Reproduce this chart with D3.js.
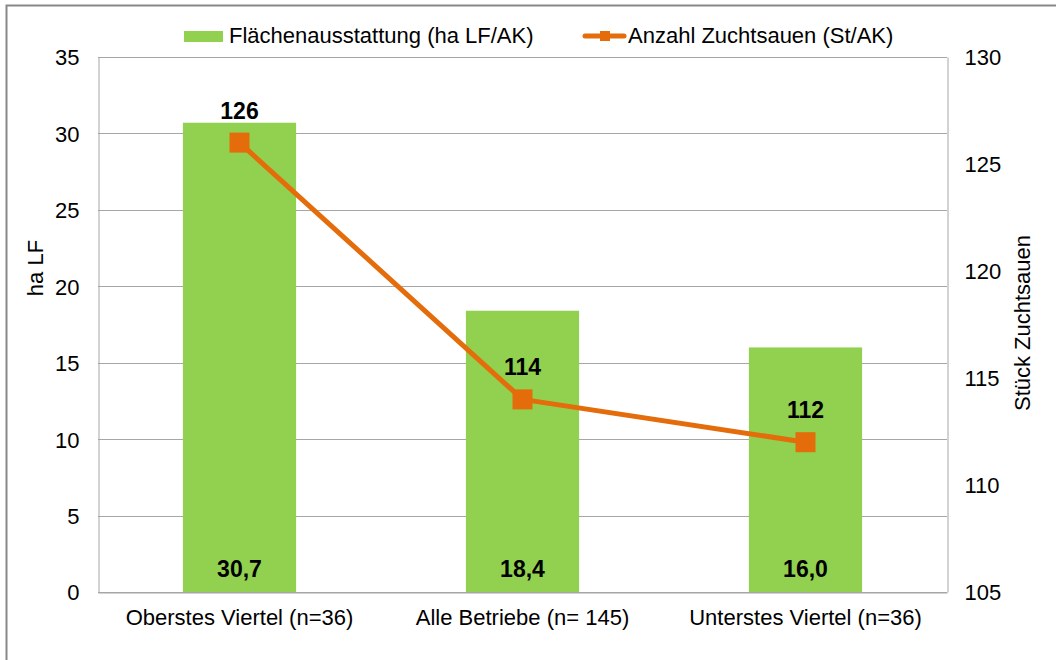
<!DOCTYPE html>
<html>
<head>
<meta charset="utf-8">
<script src="https://cdn.jsdelivr.net/npm/d3@7"></script>
<style>
body { margin: 0; background: #fff; }
text { font-family: "Liberation Sans", Arial, sans-serif; fill: #000; }
</style>
</head>
<body>
<svg id="chart" width="1056" height="660"></svg>
<script>
var categories = ["Oberstes Viertel (n=36)", "Alle Betriebe (n= 145)", "Unterstes Viertel (n=36)"];
var flaeche = [30.7, 18.4, 16.0];
var sauen = [126, 114, 112];
var leftTicks = [0, 5, 10, 15, 20, 25, 30, 35];
var rightTicks = [105, 110, 115, 120, 125, 130];
var seriesNames = ["Flächenausstattung (ha LF/AK)", "Anzahl Zuchtsauen (St/AK)"];

var GREEN = "#92d050";
var ORANGE = "#e46c0a";
var GRID = "#a6a6a6";
var FS = "22px";
var FS_BOLD = "23px";

var svg = d3.select("#chart");
var plotLeft = 98, plotRight = 947, plotTop = 57, plotBottom = 592;

// outer frame
svg.append("rect")
	.attr("x", 6.5).attr("y", 5.5)
	.attr("width", 1100).attr("height", 700)
	.attr("fill", "none")
	.attr("stroke", "#888")
	.attr("stroke-width", 2);

var x = d3.scaleBand().domain(categories).range([plotLeft, plotRight]).paddingInner(0).paddingOuter(0);
var yL = d3.scaleLinear().domain([0, 35]).range([plotBottom, plotTop]);
var yR = d3.scaleLinear().domain([105, 130]).range([plotBottom, plotTop]);

// grid
svg.append("g").selectAll("line")
	.data(leftTicks)
	.join("line")
	.attr("x1", plotLeft).attr("x2", plotRight)
	.attr("y1", function(d) { return Math.round(yL(d)) + 0.5; })
	.attr("y2", function(d) { return Math.round(yL(d)) + 0.5; })
	.attr("stroke", GRID).attr("stroke-width", 1);

// left axis
var axL = svg.append("g")
	.attr("transform", "translate(" + (plotLeft + 0.5) + ",0)")
	.call(d3.axisLeft(yL).tickValues(leftTicks).tickSize(0).tickPadding(19));
axL.select(".domain").attr("stroke", GRID);
axL.selectAll("text").style("font-size", FS).attr("dy", "0.36em");

// right axis
var axR = svg.append("g")
	.attr("transform", "translate(" + (plotRight + 0.5) + ",0)")
	.call(d3.axisRight(yR).tickValues(rightTicks).tickSize(0).tickPadding(17));
axR.select(".domain").attr("stroke", GRID);
axR.selectAll("text").style("font-size", FS).attr("dy", "0.36em");

// bars
var barW = x.bandwidth() * 0.4;
svg.append("g").selectAll("rect")
	.data(flaeche)
	.join("rect")
	.attr("x", function(d, i) { return x(categories[i]) + (x.bandwidth() - barW) / 2; })
	.attr("y", function(d) { return yL(d); })
	.attr("width", barW)
	.attr("height", function(d) { return yL(0) - yL(d); })
	.attr("fill", GREEN);

// bottom axis
var axB = svg.append("g")
	.attr("transform", "translate(0," + (plotBottom + 0.5) + ")")
	.call(d3.axisBottom(x).tickSize(0).tickPadding(17));
axB.select(".domain").attr("stroke", GRID);
axB.selectAll("text").style("font-size", FS);

// bar labels
svg.append("g").selectAll("text")
	.data(flaeche)
	.join("text")
	.attr("x", function(d, i) { return x(categories[i]) + x.bandwidth() / 2; })
	.attr("y", plotBottom - 15)
	.attr("text-anchor", "middle")
	.style("font-size", FS_BOLD).style("font-weight", "bold")
	.text(function(d) { return d3.format(".1f")(d).replace(".", ","); });

// line
var line = d3.line()
	.x(function(d, i) { return x(categories[i]) + x.bandwidth() / 2; })
	.y(function(d) { return yR(d); });
svg.append("path")
	.datum(sauen)
	.attr("d", line)
	.attr("fill", "none")
	.attr("stroke", ORANGE)
	.attr("stroke-width", 5)
	.attr("stroke-linejoin", "round");

svg.append("g").selectAll("rect")
	.data(sauen)
	.join("rect")
	.attr("x", function(d, i) { return x(categories[i]) + x.bandwidth() / 2 - 10; })
	.attr("y", function(d) { return yR(d) - 10; })
	.attr("width", 20).attr("height", 20)
	.attr("fill", ORANGE);

svg.append("g").selectAll("text")
	.data(sauen)
	.join("text")
	.attr("x", function(d, i) { return x(categories[i]) + x.bandwidth() / 2; })
	.attr("y", function(d) { return yR(d) - 24; })
	.attr("text-anchor", "middle")
	.style("font-size", FS_BOLD).style("font-weight", "bold")
	.text(function(d) { return d; });

// axis titles
svg.append("text")
	.attr("transform", "translate(43,268) rotate(-90)")
	.attr("text-anchor", "middle")
	.style("font-size", FS)
	.text("ha LF");
svg.append("text")
	.attr("transform", "translate(1030,323) rotate(-90)")
	.attr("text-anchor", "middle")
	.style("font-size", FS)
	.text("Stück Zuchtsauen");

// legend
var lg = svg.append("g");
lg.append("rect")
	.attr("x", 184).attr("y", 31).attr("width", 39).attr("height", 11)
	.attr("fill", GREEN);
lg.append("text")
	.attr("x", 229).attr("y", 43)
	.style("font-size", FS)
	.text(seriesNames[0]);
lg.append("line")
	.attr("x1", 585).attr("x2", 624).attr("y1", 36).attr("y2", 36)
	.attr("stroke", ORANGE).attr("stroke-width", 5).attr("stroke-linecap", "round");
lg.append("rect")
	.attr("x", 600).attr("y", 31).attr("width", 10).attr("height", 10)
	.attr("fill", ORANGE);
lg.append("text")
	.attr("x", 628).attr("y", 43)
	.style("font-size", FS)
	.text(seriesNames[1]);
</script>
</body>
</html>
